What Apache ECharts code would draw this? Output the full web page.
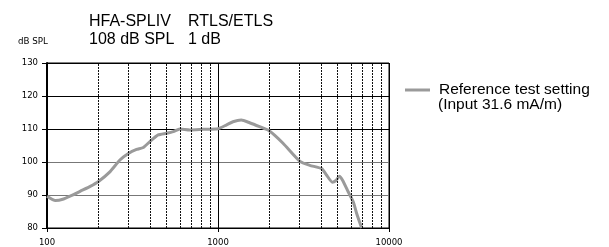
<!DOCTYPE html>
<html><head><meta charset="utf-8">
<script src="https://cdn.jsdelivr.net/npm/echarts@6/dist/echarts.min.js"></script>
<style>html,body{margin:0;padding:0;background:#fff}#c{width:609px;height:247px}</style>
</head><body><div id="c"></div>
<script>
const freq = [100,112,125,143,156,179,200,234,267,299,334,366,400,447,500,548,598,684,818,1000,1118,1223,1368,1530,1750,2000,2400,3017,3440,4040,4320,4660,4898,5122,5360,5780,6185,6470,6925];
const dbSpl = [89.6,88.3,88.8,90.1,91.1,92.6,94.1,97.1,100.6,102.6,103.8,104.4,106.2,108.2,108.7,109.2,110.0,109.7,109.9,110.1,111.2,112.2,112.7,111.9,110.7,109.4,105.7,100.2,99.0,98.0,96.0,93.9,94.4,95.7,94.4,90.9,87.9,84.4,80.0];
const minorFreqs = [200,300,400,500,600,700,800,900,2000,3000,4000,5000,6000,7000,8000,9000];
const seriesName = 'Reference test setting';
const seriesNote = '(Input 31.6 mA/m)';
const headerCol1 = ['HFA-SPLIV', '108 dB SPL'];
const headerCol2 = ['RTLS/ETLS', '1 dB'];
const yUnit = 'dB SPL';

const chart = echarts.init(document.getElementById('c'), null, {renderer:'canvas'});
const sans = 'Liberation Sans, Arial, sans-serif';
const small = 'DejaVu Sans, Verdana, sans-serif';
chart.setOption({
  animation:false,
  backgroundColor:'#fff',
  grid:{left:47, top:63, width:342, height:165, show:true, borderColor:'#000', borderWidth:1, containLabel:false},
  xAxis:{type:'log', logBase:10, min:100, max:10000,
    axisLine:{show:true, onZero:false, lineStyle:{color:'#000', width:1}},
    axisTick:{show:true, length:4, lineStyle:{color:'#000'}},
    axisLabel:{fontFamily:small, fontSize:8.5, color:'#000', margin:10, formatter: v => String(v)},
    splitLine:{show:true, lineStyle:{color:'#000', width:1}},
    minorTick:{show:false}, minorSplitLine:{show:false}},
  yAxis:{type:'value', min:80, max:130, interval:10,
    axisLine:{show:true, lineStyle:{color:'#000', width:2}},
    axisTick:{show:true, length:5, lineStyle:{color:'#000'}},
    axisLabel:{fontFamily:small, fontSize:8.5, color:'#000', margin:9},
    splitLine:{show:true, lineStyle:{color:['#000','#777','#777','#000','#000','#000'], width:1}}},
  legend:{show:true, left:400, top:77, orient:'vertical', icon:'rect', itemWidth:25, itemHeight:3,
    itemGap:0, data:[seriesName],
    textStyle:{fontFamily:sans, fontSize:15.5, color:'#000', padding:[0,0,0,4]}},
  graphic:[
    {type:'text', left:89, top:13, style:{text:headerCol1.join('\n'), font:'16px '+sans, fill:'#000', lineHeight:17.5}},
    {type:'text', left:188, top:13, style:{text:headerCol2.join('\n'), font:'16px '+sans, fill:'#000', lineHeight:17.5}},
    {type:'text', left:438, top:97, style:{text:seriesNote, font:'15.5px '+sans, fill:'#000'}},
    {type:'text', left:18, top:37, style:{text:yUnit, font:'8.7px '+small, fill:'#000'}}
  ],
  series:[{name:seriesName, type:'line', showSymbol:false, smooth:0.2,
    data: freq.map((f,i)=>[f, dbSpl[i]]),
    lineStyle:{color:'#9a9a9a', width:3}, itemStyle:{color:'#9a9a9a'},
    markLine:{silent:true, symbol:'none', label:{show:false}, animation:false,
      lineStyle:{color:'#111', width:1, type:[2,1]},
      data: minorFreqs.map(f=>({xAxis:f}))},
    z:3}]
});
</script></body></html>
